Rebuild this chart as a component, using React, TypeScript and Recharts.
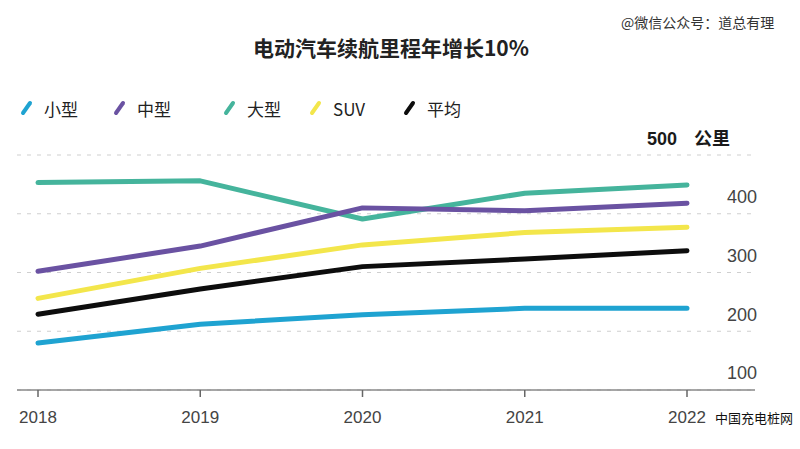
import React from "react";
import { LineChart, Line, XAxis, YAxis, CartesianGrid } from "recharts";

const years = ["2018", "2019", "2020", "2021", "2022"];
const small = [180, 212, 228, 239, 239];
const medium = [302, 345, 410, 405, 418];
const large = [453, 456, 391, 435, 449];
const suv = [256, 307, 347, 368, 377];
const avg = [229, 272, 310, 323, 337];
const yTicks = [100, 200, 300, 400, 500];

const series = [
  { key: "large", name: "大型", color: "#45b49c", values: large },
  { key: "suv", name: "SUV", color: "#f3e64b", values: suv },
  { key: "avg", name: "平均", color: "#0d0d0d", values: avg },
  { key: "small", name: "小型", color: "#1fa3d1", values: small },
  { key: "medium", name: "中型", color: "#6a52a2", values: medium },
];
const legendOrder = ["small", "medium", "large", "suv", "avg"];

const data = years.map((y, i) => {
  const row: Record<string, string | number> = { year: y };
  series.forEach((s) => (row[s.key] = s.values[i]));
  return row;
});

const FONT = "'Liberation Sans', 'Noto Sans CJK SC', Arial, sans-serif";
const CJK = "'Noto Sans CJK SC', 'Liberation Sans', sans-serif";

const YTick = (props: any) => {
  const { x, y, payload } = props;
  if (payload.value === 500) {
    return (
      <g>
        <text x={x - 78} y={y - 16} dy="0.35em" textAnchor="end" fontSize={18} fontWeight={700} fill="#1a1a1a" fontFamily={FONT}>
          500
        </text>
        <text x={x - 25} y={y - 16} dy="0.35em" textAnchor="end" fontSize={18} fontWeight={700} fill="#1a1a1a" fontFamily={CJK}>
          公里
        </text>
      </g>
    );
  }
  return (
    <text x={x + 2} y={y - 17} dy="0.35em" textAnchor="end" fontSize={18} fill="#444" fontFamily={FONT}>
      {payload.value}
    </text>
  );
};

const legendPos: Record<string, number> = { small: 20, medium: 113, large: 223, suv: 309, avg: 403 };

export default function App() {
  return (
    <div style={{ position: "absolute", left: 0, top: 0, width: 800, height: 449, background: "#fff", overflow: "hidden" }}>
      <div style={{ position: "absolute", left: 621, top: 12, fontSize: 14, color: "#333", fontFamily: CJK, letterSpacing: 0 }}>
        @微信公众号：道总有理
      </div>
      <div style={{ position: "absolute", left: 0, width: 782, top: 32, textAlign: "center", fontSize: 21, fontWeight: 700, color: "#222", fontFamily: CJK }}>
        电动汽车续航里程年增长10%
      </div>
      {legendOrder.map((k) => {
        const s = series.find((q) => q.key === k)!;
        const lx = legendPos[k];
        return (
          <div key={k} style={{ position: "absolute", left: lx, top: 96, height: 24, display: "flex", alignItems: "center" }}>
            <svg width={14} height={20}>
              <line x1={3} y1={15} x2={10} y2={5} stroke={s.color} strokeWidth={4} strokeLinecap="round" />
            </svg>
            <span style={{ marginLeft: 10, fontSize: 17, color: "#222", fontFamily: CJK }}>{s.name}</span>
          </div>
        );
      })}
      <div style={{ position: "absolute", left: 715, top: 408, fontSize: 13, color: "#111", fontFamily: CJK }}>中国充电桩网</div>
      <div style={{ position: "absolute", left: 0, top: 0 }}>
        <LineChart width={800} height={449} data={data} margin={{ top: 155, right: 0, left: 17, bottom: 19 }}>
          <CartesianGrid vertical={false} stroke="#cfcfcf" strokeDasharray="4 6" />
          <XAxis
            dataKey="year"
            padding={{ left: 21, right: 68 }}
            axisLine={{ stroke: "#888", strokeWidth: 1.5 }}
            tickLine={{ stroke: "#666", strokeWidth: 1.5 }}
            tickSize={7}
            tickMargin={14}
            height={40}
            tick={{ fontSize: 17, fill: "#444", fontFamily: FONT }}
          />
          <YAxis
            orientation="right"
            domain={[100, 500]}
            ticks={yTicks}
            width={45}
            axisLine={false}
            tickLine={false}
            tickSize={0}
            tickMargin={0}
            tick={<YTick />}
            interval={0}
          />
          {series.map((s) => (
            <Line
              key={s.key}
              dataKey={s.key}
              name={s.name}
              stroke={s.color}
              strokeWidth={5}
              strokeLinecap="round"
              strokeLinejoin="round"
              dot={false}
              type="linear"
              isAnimationActive={false}
            />
          ))}
        </LineChart>
      </div>
    </div>
  );
}
